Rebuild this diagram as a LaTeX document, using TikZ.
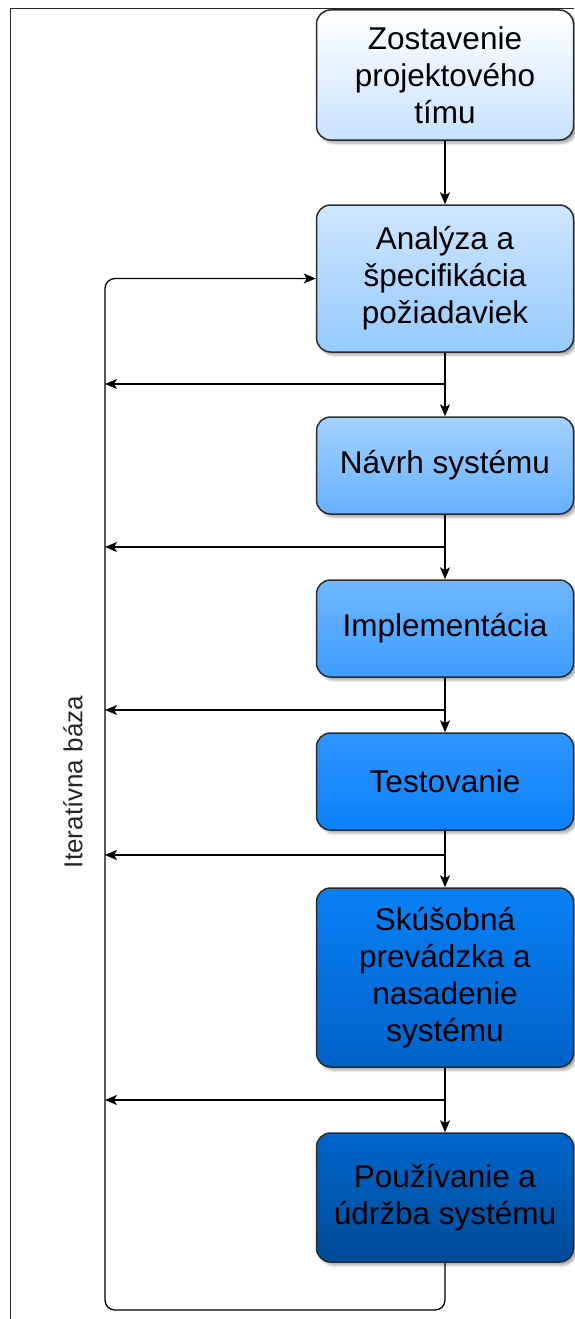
\documentclass[tikz,border=0pt]{standalone}
\usepackage{fontspec}
\setmainfont{Liberation Sans}
\usetikzlibrary{shadows.blur,arrows.meta}
\definecolor{edge}{HTML}{2B2B2B}
\tikzset{
  phase/.style={draw=edge, line width=1.5pt, rounded corners=14pt,
    minimum width=257pt, align=center, inner sep=2pt,
    font=\fontsize{31.5}{37}\selectfont,
    blur shadow={shadow xshift=3pt, shadow yshift=-3pt, shadow blur radius=2.5pt, shadow opacity=35},
    shading=axis, shading angle=0},
  flow/.style={line width=1.3pt, draw=black, -{Stealth[length=12pt,width=10pt,inset=3pt]}},
  loopline/.style={line width=1.3pt, draw=black, rounded corners=10pt,
    -{Stealth[length=12pt,width=10pt,inset=3pt]}},
}
\begin{document}
\begin{tikzpicture}[x=1pt,y=-1pt]
  \useasboundingbox (0,0) rectangle (574,1319);
  % outer frame
  \draw[line width=1pt, draw=black!85] (10.5,1319) -- (10.5,8.5) -- (574,8.5);

  % phases
  \node[phase, minimum height=130pt, top color=white, bottom color={rgb,255:red,200;green,226;blue,255}]
    (b1) at (445,75) {Zostavenie\\projektového\\tímu};
  \node[phase, minimum height=147pt, top color={rgb,255:red,207;green,230;blue,255}, bottom color={rgb,255:red,150;green,202;blue,255}]
    (b2) at (445,278.5) {Analýza a\\špecifikácia\\požiadaviek};
  \node[phase, minimum height=97pt, top color={rgb,255:red,164;green,210;blue,255}, bottom color={rgb,255:red,102;green,176;blue,255}]
    (b3) at (445,465.5) {Návrh systému};
  \node[phase, minimum height=97pt, top color={rgb,255:red,112;green,184;blue,255}, bottom color={rgb,255:red,62;green,156;blue,255}]
    (b4) at (445,628.5) {Implementácia};
  \node[phase, minimum height=97pt, top color={rgb,255:red,48;green,150;blue,255}, bottom color={rgb,255:red,10;green,128;blue,250}]
    (b5) at (445,781.5) {Testovanie};
  \node[phase, minimum height=179pt, top color={rgb,255:red,10;green,128;blue,246}, bottom color={rgb,255:red,0;green,98;blue,200}]
    (b6) at (445,977.5) {Skúšobná\\prevádzka a\\nasadenie\\systému};
  \node[phase, minimum height=129pt, top color={rgb,255:red,0;green,102;blue,204}, bottom color={rgb,255:red,0;green,74;blue,150}]
    (b7) at (445,1197.5) {Používanie a\\údržba systému};

  % branch points on the main line and their ends on the return line
  \coordinate (j2) at (445,384);   \coordinate (r2) at (105,384);
  \coordinate (j3) at (445,547);   \coordinate (r3) at (105,547);
  \coordinate (j4) at (445,710);   \coordinate (r4) at (105,710);
  \coordinate (j5) at (445,855);   \coordinate (r5) at (105,855);
  \coordinate (j6) at (445,1100);  \coordinate (r6) at (105,1100);
  \coordinate (c1) at (445,1310);  \coordinate (c2) at (105,1310);
  \coordinate (c3) at (105,278.5);

  % main sequence
  \draw[flow] (b1) -- (b2);
  \draw[flow] (b2) -- (j2) -- (b3);
  \draw[flow] (b3) -- (j3) -- (b4);
  \draw[flow] (b4) -- (j4) -- (b5);
  \draw[flow] (b5) -- (j5) -- (b6);
  \draw[flow] (b6) -- (j6) -- (b7);

  % feedback to the iterative base
  \draw[flow] (j2) -- (r2);
  \draw[flow] (j3) -- (r3);
  \draw[flow] (j4) -- (r4);
  \draw[flow] (j5) -- (r5);
  \draw[flow] (j6) -- (r6);

  % return loop
  \draw[loopline] (b7.south) -- (c1) -- (c2) -- (c3) -- (b2.west);

  \node[rotate=90, text=black!85, font=\fontsize{26}{30}\selectfont] (lbl) at (73,782) {Iteratívna báza};
\end{tikzpicture}
\end{document}
